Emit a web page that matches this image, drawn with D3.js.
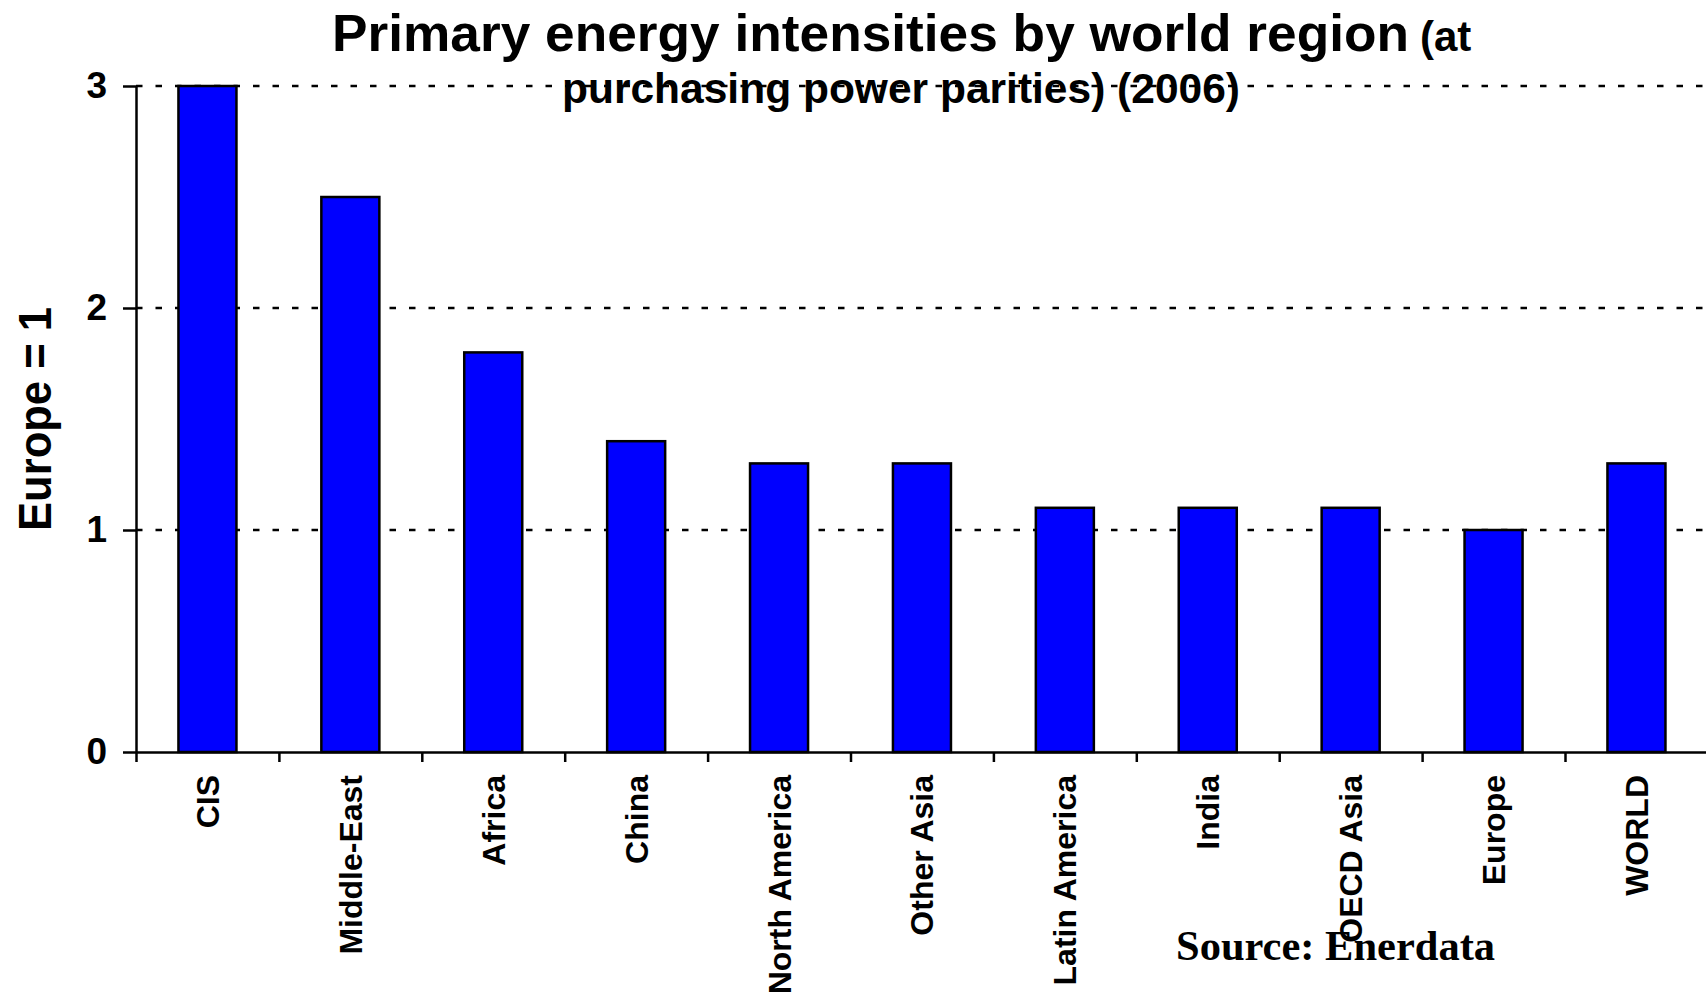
<!DOCTYPE html>
<html>
<head>
<meta charset="utf-8">
<script src="https://cdn.jsdelivr.net/npm/d3@7"></script>
<style>
  body { margin: 0; background: #fff; }
  svg { display: block; font-family: "Liberation Sans", Arial, sans-serif; }
</style>
</head>
<body>
<svg></svg>
<script>
// data (Europe = 1)
const regions = ["CIS", "Middle-East", "Africa", "China", "North America", "Other Asia",
  "Latin America", "India", "OECD Asia", "Europe", "WORLD"]
const intensity = [3.0, 2.5, 1.8, 1.4, 1.3, 1.3, 1.1, 1.1, 1.1, 1.0, 1.3]
const yTicks = [0, 1, 2, 3]

const w = 1706
const h = 994
const left = 136
const step = 142.9
const y0 = 752
const y3 = 86

let svg = d3.select("svg")
  .attr("width", w)
  .attr("height", h)

let xScale = d3.scaleBand()
  .domain(regions)
  .range([left, left + step * regions.length])
  .paddingInner(0.594)
  .paddingOuter(0.297)

let xTickScale = d3.scaleLinear()
  .domain([0, regions.length])
  .range([left, left + step * regions.length])

let yScale = d3.scaleLinear()
  .domain([0, 3])
  .range([y0, y3])

// dotted gridlines
svg.append("g")
  .selectAll("line")
  .data(yTicks.filter(d => d > 0))
  .enter()
  .append("line")
  .attr("x1", left)
  .attr("x2", w)
  .attr("y1", d => yScale(d))
  .attr("y2", d => yScale(d))
  .attr("stroke", "#000")
  .attr("stroke-width", 2.5)
  .attr("stroke-dasharray", "6.5 13")

// bars
svg.append("g")
  .selectAll("rect")
  .data(intensity)
  .enter()
  .append("rect")
  .attr("x", (d, i) => xScale(regions[i]))
  .attr("y", d => yScale(d))
  .attr("width", xScale.bandwidth())
  .attr("height", d => y0 - yScale(d))
  .attr("fill", "#0000ff")
  .attr("stroke", "#000")
  .attr("stroke-width", 2.5)

// y axis
let yAxis = d3.axisLeft(yScale)
  .tickValues(yTicks)
  .tickFormat(d3.format("d"))
  .tickSize(13)
  .tickSizeOuter(0)
  .tickPadding(16)

let gy = svg.append("g")
  .attr("transform", "translate(" + left + ",0)")
  .call(yAxis)
gy.select(".domain").attr("stroke-width", 2.5)
gy.selectAll(".tick line").attr("stroke-width", 2.5)
gy.selectAll(".tick text")
  .attr("font-family", "Liberation Sans, Arial, sans-serif")
  .attr("font-size", 37)
  .attr("font-weight", "bold")
  .attr("fill", "#000")

// x axis: ticks between categories
let xAxis = d3.axisBottom(xTickScale)
  .tickValues(d3.range(0, regions.length + 1))
  .tickFormat("")
  .tickSize(10)
  .tickSizeOuter(0)

let gx = svg.append("g")
  .attr("transform", "translate(0," + y0 + ")")
  .call(xAxis)
gx.select(".domain").attr("stroke-width", 2.5)
gx.selectAll(".tick line").attr("stroke-width", 2.5)

// rotated category labels
svg.append("g")
  .selectAll("text")
  .data(regions)
  .enter()
  .append("text")
  .attr("transform", d => "translate(" + (xScale(d) + xScale.bandwidth() / 2) + ",775) rotate(-90)")
  .attr("dy", "0.36em")
  .attr("text-anchor", "end")
  .attr("font-size", 32)
  .attr("font-weight", "bold")
  .text(d => d)

// y axis title
svg.append("text")
  .attr("transform", "translate(51,419) rotate(-90)")
  .attr("text-anchor", "middle")
  .attr("font-size", 47)
  .attr("font-weight", "bold")
  .attr("textLength", 224)
  .attr("lengthAdjust", "spacingAndGlyphs")
  .text("Europe = 1")

// title
svg.append("text")
  .attr("x", 332)
  .attr("y", 51)
  .attr("font-size", 52)
  .attr("font-weight", "bold")
  .attr("textLength", 1077)
  .attr("lengthAdjust", "spacingAndGlyphs")
  .text("Primary energy intensities by world region")

svg.append("text")
  .attr("x", 1420)
  .attr("y", 51)
  .attr("font-size", 42)
  .attr("font-weight", "bold")
  .text("(at")

svg.append("text")
  .attr("x", 562)
  .attr("y", 103)
  .attr("font-size", 43)
  .attr("font-weight", "bold")
  .attr("textLength", 678)
  .attr("lengthAdjust", "spacingAndGlyphs")
  .text("purchasing power parities) (2006)")

// source
svg.append("text")
  .attr("x", 1176)
  .attr("y", 960)
  .attr("font-family", "Liberation Serif, Times New Roman, serif")
  .attr("font-size", 42.5)
  .attr("font-weight", "bold")
  .text("Source: Enerdata")
</script>
</body>
</html>
